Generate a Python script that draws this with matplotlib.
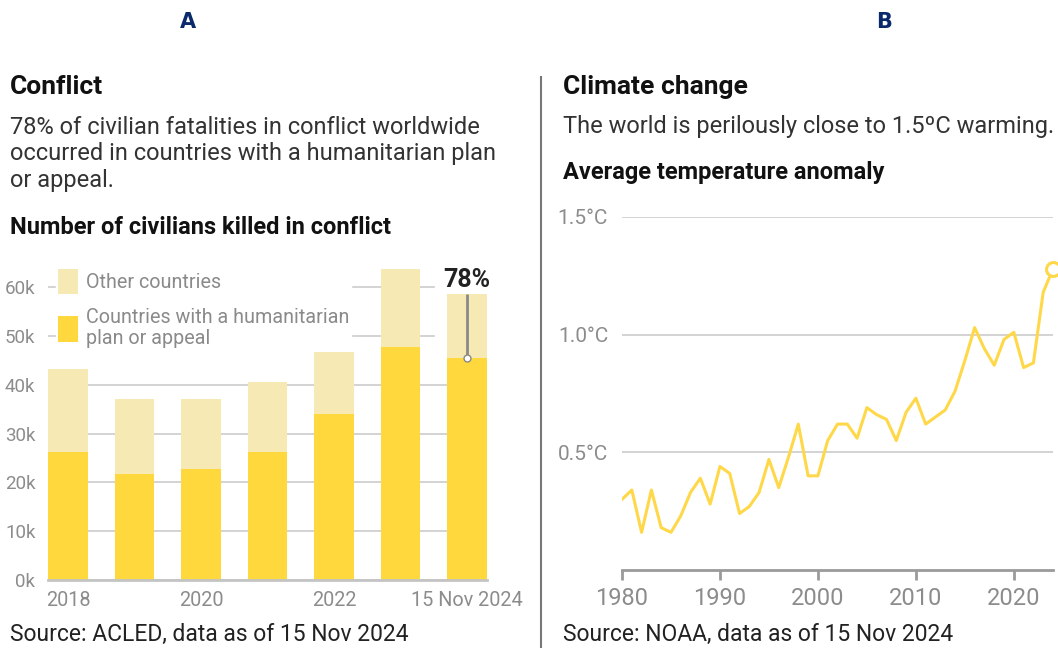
import numpy as np
import matplotlib
matplotlib.use("Agg")
import matplotlib.pyplot as plt
from matplotlib.patches import Rectangle

# ===== Data =====
years_bar = ["2018", "2019", "2020", "2021", "2022", "2023", "15 Nov 2024"]
bar_labels = ["2018", "", "2020", "", "2022", "", "15 Nov 2024"]
plan_killed = np.array([26.2, 21.7, 22.7, 26.2, 34.0, 47.7, 45.6]) * 1000
other_killed = np.array([17.0, 15.4, 14.4, 14.4, 12.7, 16.0, 13.0]) * 1000

temp_years = np.arange(1980, 2025)
temp_anom = np.array([
    0.30, 0.34, 0.16, 0.34, 0.18, 0.16, 0.23, 0.33, 0.39, 0.28,
    0.44, 0.41, 0.24, 0.27, 0.33, 0.47, 0.35, 0.48, 0.62, 0.40,
    0.40, 0.55, 0.62, 0.62, 0.56, 0.69, 0.66, 0.64, 0.55, 0.67,
    0.73, 0.62, 0.65, 0.68, 0.76, 0.89, 1.03, 0.94, 0.87, 0.98,
    1.01, 0.86, 0.88, 1.18, 1.28
])

# ===== Style =====
W, H = 1058, 648
DARK = "#FFD83D"
LIGHT = "#F7E9B3"
LINE = "#FFD84A"
GRID = "#d0d0d0"
TICK = "#8c8c8c"
plt.rcParams['font.family'] = ['Roboto', 'DejaVu Sans']

fig = plt.figure(figsize=(W / 100, H / 100), dpi=100)


def fx(x):
    return x / W


def fy(y):
    return 1 - y / H


def txt(x, y, s, **kw):
    kw.setdefault("va", "center")
    kw.setdefault("ha", "left")
    fig.text(fx(x), fy(y), s, **kw)


# ===== Header texts =====
txt(188, 22, "A", ha="center", fontsize=15, weight="bold", color="#0b2a6b",
    family="DejaVu Sans")
txt(884, 22, "B", ha="center", fontsize=15, weight="bold", color="#0b2a6b",
    family="DejaVu Sans")

txt(10, 87, "Conflict", fontsize=19, weight="bold", color="#111111")
txt(10, 127, "78% of civilian fatalities in conflict worldwide", fontsize=17, color="#333333")
txt(10, 154, "occurred in countries with a humanitarian plan", fontsize=17, color="#333333")
txt(10, 181, "or appeal.", fontsize=17, color="#333333")
txt(10, 228, "Number of civilians killed in conflict", fontsize=17, weight="bold", color="#111111")
txt(10, 634, "Source: ACLED, data as of 15 Nov 2024", fontsize=16.5, color="#222222")

txt(563, 87, "Climate change", fontsize=19, weight="bold", color="#111111")
txt(563, 127, "The world is perilously close to 1.5ºC warming.", fontsize=17, color="#333333")
txt(563, 173, "Average temperature anomaly", fontsize=17, weight="bold", color="#111111")
txt(563, 634, "Source: NOAA, data as of 15 Nov 2024", fontsize=16.5, color="#222222")

# divider
fig.add_artist(plt.Line2D([fx(541), fx(541)], [fy(77), fy(648)],
                          color="#777777", lw=1.5))

# ===== Left: stacked bars =====
axL = fig.add_axes([fx(48), fy(580), (487 - 48) / W, (580 - 263) / H])
x = np.arange(len(years_bar))
axL.bar(x, plan_killed, width=0.6, color=DARK, zorder=2,
        label="Countries with a humanitarian\nplan or appeal")
axL.bar(x, other_killed, bottom=plan_killed, width=0.6, color=LIGHT, zorder=2,
        label="Other countries")
axL.set_xlim(-0.3, len(x) - 0.7)
axL.set_ylim(0, 65000)
yt = np.arange(0, 60001, 10000)
axL.set_yticks(yt)
axL.set_yticklabels([f"{int(v / 1000)}k" for v in yt])
axL.set_xticks(x)
axL.set_xticklabels(bar_labels)
axL.grid(axis="y", color=GRID, lw=1.3, zorder=0)
axL.set_axisbelow(True)
for s in ["top", "right", "left"]:
    axL.spines[s].set_visible(False)
axL.spines["bottom"].set_color("#c4c4c4")
axL.spines["bottom"].set_linewidth(2)
axL.tick_params(axis="both", length=0, colors=TICK, labelsize=14.3)
axL.tick_params(axis="y", pad=9, labelsize=13.5)
axL.tick_params(axis="x", pad=8)

# white block behind the 78% annotation
last = len(x) - 1
axL.add_patch(Rectangle((last - 0.48, plan_killed[last]), 0.78, 20000,
                        color="white", zorder=1))
share = plan_killed[last] / (plan_killed[last] + other_killed[last])
axL.plot([last, last], [plan_killed[last], plan_killed[last] + other_killed[last]],
         color="#8a8a8a", lw=2, zorder=3, solid_capstyle="butt")
axL.plot([last], [plan_killed[last]], "o", ms=5, mfc="white", mec="#8a8a8a",
         mew=1, zorder=4)
axL.text(last, plan_killed[last] + other_killed[last] + 500, f"{share:.0%}",
         ha="center", va="bottom", fontsize=18, weight="bold", color="#222222",
         zorder=4)

handles, labels = axL.get_legend_handles_labels()
leg = axL.legend(handles[::-1], labels[::-1], loc="upper left",
                 bbox_to_anchor=(0.01, 1.0), frameon=True, framealpha=1,
                 edgecolor="white", fontsize=14.2, handlelength=1.0,
                 handleheight=1.6, handletextpad=0.4, labelspacing=0.7,
                 borderpad=0.1, borderaxespad=0.2)
for t in leg.get_texts():
    t.set_color("#8a8a8a")
    t.set_linespacing(1.1)

# ===== Right: temperature line =====
axR = fig.add_axes([fx(622), fy(570), (1053 - 622) / W, (570 - 217) / H])
axR.plot(temp_years, temp_anom, color=LINE, lw=2.2, zorder=3)
axR.plot(temp_years[-1:], temp_anom[-1:], "o", ms=10, mfc="white", mec=LINE,
         mew=2.2, zorder=4, clip_on=False)
axR.set_xlim(1980, 2024)
axR.set_ylim(0, 1.5)
axR.set_yticks([0.5, 1.0, 1.5])
axR.set_yticklabels(["0.5°C", "1.0°C", "1.5°C"])
axR.set_xticks([1980, 1990, 2000, 2010, 2020])
axR.grid(axis="y", color=GRID, lw=1.3, zorder=0)
for s in ["top", "right", "left"]:
    axR.spines[s].set_visible(False)
axR.spines["bottom"].set_color("#9a9a9a")
axR.spines["bottom"].set_linewidth(2)
axR.tick_params(axis="y", length=0, colors=TICK, labelsize=15, pad=10)
axR.tick_params(axis="x", length=7, width=2, color="#9a9a9a",
                labelcolor=TICK, labelsize=17, pad=5)

fig.savefig("out.png", dpi=100)
